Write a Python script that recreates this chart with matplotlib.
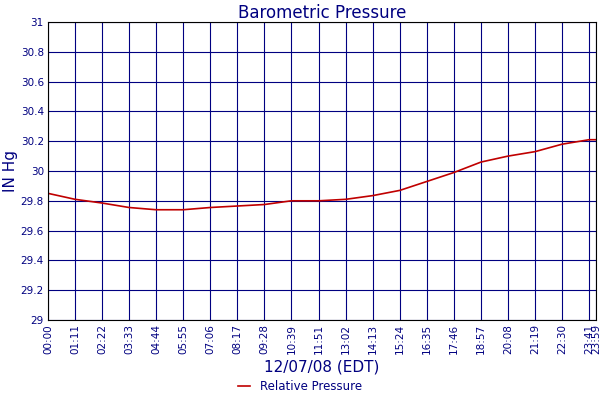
import matplotlib
matplotlib.use("Agg")
import matplotlib.pyplot as plt

tick_labels = ["00:00","01:11","02:22","03:33","04:44","05:55","07:06","08:17","09:28","10:39","11:51",
               "13:02","14:13","15:24","16:35","17:46","18:57","20:08","21:19","22:30","23:41","23:59"]
times_min = [0,71,142,213,284,355,426,497,568,639,711,782,853,924,995,1066,1137,1208,1279,1350,1421,1439]
pressure = [29.85,29.81,29.785,29.755,29.74,29.74,29.755,29.765,29.775,29.80,29.80,29.81,29.835,29.87,
            29.93,29.99,30.06,30.10,30.13,30.18,30.21,30.21]

navy = "#000080"
fig = plt.figure(figsize=(6,4), dpi=100)
ax = fig.add_axes([48/600, 80/400, 548/600, 298/400])
ax.plot(times_min, pressure, color="#c00000", lw=1.2, label="Relative Pressure")
ax.set_xlim(0, 1439)
ax.set_ylim(29, 31)
ax.set_xticks(times_min)
ax.set_xticklabels(tick_labels, rotation=90, fontsize=7.5, color=navy)
ax.set_yticks([29+0.2*i for i in range(11)])
ax.set_yticklabels(["29","29.2","29.4","29.6","29.8","30","30.2","30.4","30.6","30.8","31"], fontsize=7.5, color=navy)
ax.grid(True, color=navy, lw=0.8)
ax.tick_params(length=0, pad=3)
for s in ax.spines.values():
    s.set_color("black")
ax.set_title("Barometric Pressure", color=navy, fontsize=12, pad=3)
ax.set_ylabel("IN Hg", color=navy, fontsize=11, labelpad=2)
ax.set_xlabel("12/07/08 (EDT)", color=navy, fontsize=11, labelpad=4)
fig.legend(loc="lower center", bbox_to_anchor=(0.5, -0.01), frameon=False, fontsize=8.5,
           handlelength=1.0, labelcolor=navy)
fig.savefig("out.png", dpi=100)
